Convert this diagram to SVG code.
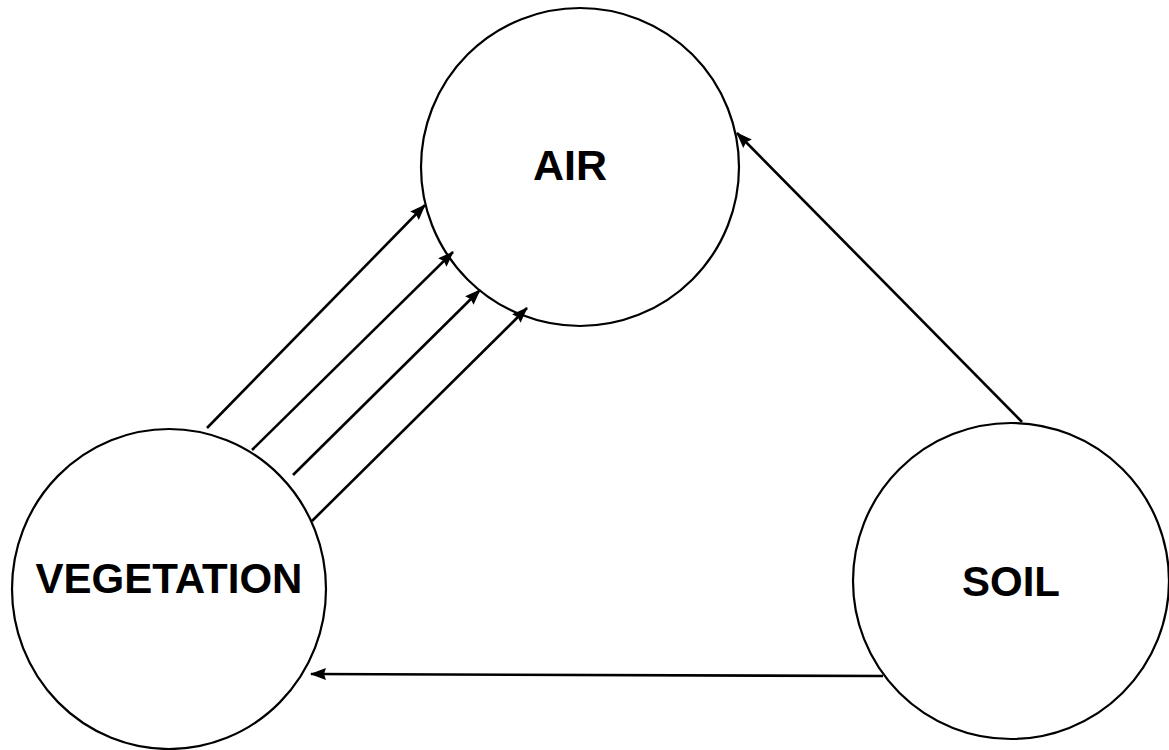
<svg xmlns="http://www.w3.org/2000/svg" width="1169" height="750" viewBox="0 0 1169 750">
<style>
.node{fill:#fff;stroke:#000;stroke-width:2.2}
.lbl{font-family:"Liberation Sans",Arial,sans-serif;font-weight:bold;fill:#000;text-anchor:middle}
.conn{stroke:#000;stroke-width:2.6;fill:none;marker-end:url(#ah)}
</style>
<defs>
<marker id="ah" viewBox="0 0 16 12" refX="15" refY="6" markerWidth="16" markerHeight="12" markerUnits="userSpaceOnUse" orient="auto">
<path d="M0,0 L16,6 L0,12 L2,6 Z" fill="#000"/>
</marker>
</defs>
<rect width="1169" height="750" fill="#fff"/>
<g id="air"><circle class="node" cx="580" cy="167" r="159"/><text class="lbl" x="570" y="180" font-size="43">AIR</text></g>
<g id="vegetation"><ellipse class="node" cx="169" cy="589" rx="157" ry="160"/><text class="lbl" x="169" y="593" font-size="42">VEGETATION</text></g>
<g id="soil"><circle class="node" cx="1011" cy="581" r="158"/><text class="lbl" x="1011" y="596" font-size="42">SOIL</text></g>
<g id="connectors">
<line class="conn" x1="207" y1="428" x2="425" y2="205"/>
<line class="conn" x1="252" y1="450" x2="453" y2="252"/>
<line class="conn" x1="293" y1="475" x2="480" y2="290"/>
<line class="conn" x1="312" y1="521" x2="527" y2="308"/>
<line class="conn" x1="1022" y1="422" x2="737" y2="133"/>
<line class="conn" x1="883" y1="676" x2="311" y2="674"/>
</g>
</svg>
